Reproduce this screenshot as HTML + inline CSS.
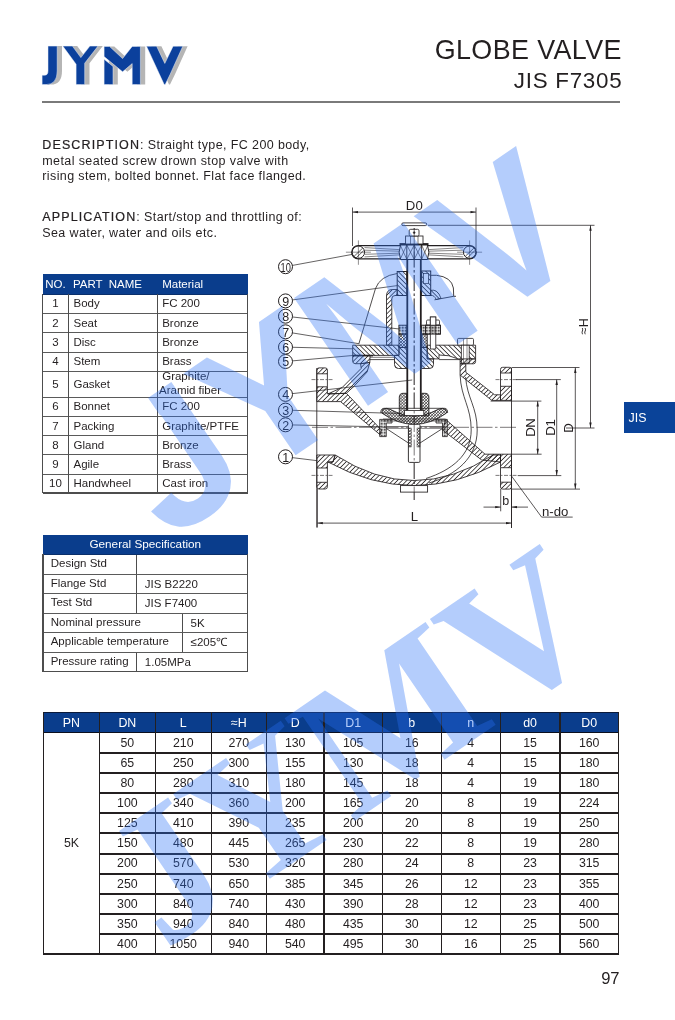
<!DOCTYPE html>
<html><head><meta charset="utf-8"><title>Globe Valve JIS F7305</title>
<style>
html,body{margin:0;padding:0;background:#fff;}
body{width:675px;height:1020px;position:relative;overflow:hidden;font-family:"Liberation Sans", sans-serif;}
.t{position:absolute;white-space:pre;font-family:"Liberation Sans", sans-serif;}
.l{position:absolute;}
svg{position:absolute;left:0;top:0;}
#pg{position:absolute;left:0;top:0;width:675px;height:1020px;overflow:hidden;will-change:transform;}
</style></head><body><div id="pg">
<svg width="675" height="110" viewBox="0 0 675 110" style="left:0;top:0"><g transform="translate(4.8,0)" fill="#b5b5b5"><path d="M48,46.1 H57.2 V71 Q57.2,84.6 46,84.6 H42.1 V75.2 H44.6 Q48,75.2 48,71 Z"/><path d="M62.8,46.1 L72.4,46.1 L80.85,57.6 L89.9,46.1 L98,46.1 L84.7,63.2 L84.7,84.6 L76.1,84.6 L76.1,64.2 Z"/><path d="M104.1,46.4 L109.5,46.4 L122.6,58.6 L132.2,46.4 L140.4,46.4 L140.4,84.6 L132.2,84.6 L132.2,63.6 L122.6,71.8 L104.1,56.6 Z"/><path d="M104.1,59.2 L113,66.4 L113,84.6 L104.1,84.6 Z"/><path d="M146.5,46.2 L156.6,46.2 L164.8,63.4 L173.1,46.2 L182.8,46.2 L170.2,74.2 L165.2,84.6 L164.2,84.6 Z"/></g><g fill="#0b409c" stroke="#e8eef8" stroke-width="0.5"><path d="M48,46.1 H57.2 V71 Q57.2,84.6 46,84.6 H42.1 V75.2 H44.6 Q48,75.2 48,71 Z"/><path d="M62.8,46.1 L72.4,46.1 L80.85,57.6 L89.9,46.1 L98,46.1 L84.7,63.2 L84.7,84.6 L76.1,84.6 L76.1,64.2 Z"/><path d="M104.1,46.4 L109.5,46.4 L122.6,58.6 L132.2,46.4 L140.4,46.4 L140.4,84.6 L132.2,84.6 L132.2,63.6 L122.6,71.8 L104.1,56.6 Z"/><path d="M104.1,59.2 L113,66.4 L113,84.6 L104.1,84.6 Z"/><path d="M146.5,46.2 L156.6,46.2 L164.8,63.4 L173.1,46.2 L182.8,46.2 L170.2,74.2 L165.2,84.6 L164.2,84.6 Z"/></g></svg>
<div class="t" style="left:380.00px;top:34.47px;font-size:26.9px;line-height:33.62px;color:#231f20;width:241.90px;text-align:right;letter-spacing:0.4px;">GLOBE VALVE</div>
<div class="t" style="left:380.00px;top:66.64px;font-size:22.4px;line-height:28.0px;color:#231f20;width:242.40px;text-align:right;letter-spacing:0.72px;">JIS F7305</div>
<div class="l" style="left:42.00px;top:101.00px;width:578.00px;height:1.6px;background:#7a7a7a"></div>
<div class="t" style="left:42.30px;top:138.26px;font-size:12.5px;line-height:15.62px;color:#231f20;letter-spacing:0.39px;"><span style="-webkit-text-stroke:0.22px #231f20;letter-spacing:1.12px;">DESCRIPTION</span>: Straight type, FC 200 body,</div>
<div class="t" style="left:42.30px;top:153.66px;font-size:12.5px;line-height:15.62px;color:#231f20;letter-spacing:0.39px;">metal seated screw drown stop valve with</div>
<div class="t" style="left:42.30px;top:169.46px;font-size:12.5px;line-height:15.62px;color:#231f20;letter-spacing:0.39px;">rising stem, bolted bonnet. Flat face flanged.</div>
<div class="t" style="left:42.30px;top:210.16px;font-size:12.5px;line-height:15.62px;color:#231f20;letter-spacing:0.39px;"><span style="-webkit-text-stroke:0.22px #231f20;letter-spacing:1.12px;">APPLICATION</span>: Start/stop and throttling of:</div>
<div class="t" style="left:42.30px;top:225.66px;font-size:12.5px;line-height:15.62px;color:#231f20;letter-spacing:0.39px;">Sea water, water and oils etc.</div>
<div class="l" style="left:42.50px;top:274.20px;width:205.30px;height:19.50px;background:#0a3d8c"></div>
<div class="t" style="left:42.50px;top:277.03px;font-size:11.5px;line-height:14.38px;color:#fff;width:25.80px;text-align:center;">NO.</div>
<div class="t" style="left:72.90px;top:277.03px;font-size:11.5px;line-height:14.38px;color:#fff;">PART  NAME</div>
<div class="t" style="left:162.20px;top:277.03px;font-size:11.5px;line-height:14.38px;color:#fff;">Material</div>
<div class="t" style="left:42.50px;top:296.13px;font-size:11.5px;line-height:14.38px;color:#231f20;width:25.80px;text-align:center;">1</div>
<div class="t" style="left:73.50px;top:296.13px;font-size:11.5px;line-height:14.38px;color:#231f20;">Body</div>
<div class="t" style="left:162.20px;top:296.13px;font-size:11.5px;line-height:14.38px;color:#231f20;">FC 200</div>
<div class="t" style="left:42.50px;top:315.63px;font-size:11.5px;line-height:14.38px;color:#231f20;width:25.80px;text-align:center;">2</div>
<div class="t" style="left:73.50px;top:315.63px;font-size:11.5px;line-height:14.38px;color:#231f20;">Seat</div>
<div class="t" style="left:162.20px;top:315.63px;font-size:11.5px;line-height:14.38px;color:#231f20;">Bronze</div>
<div class="t" style="left:42.50px;top:335.13px;font-size:11.5px;line-height:14.38px;color:#231f20;width:25.80px;text-align:center;">3</div>
<div class="t" style="left:73.50px;top:335.13px;font-size:11.5px;line-height:14.38px;color:#231f20;">Disc</div>
<div class="t" style="left:162.20px;top:335.13px;font-size:11.5px;line-height:14.38px;color:#231f20;">Bronze</div>
<div class="t" style="left:42.50px;top:354.43px;font-size:11.5px;line-height:14.38px;color:#231f20;width:25.80px;text-align:center;">4</div>
<div class="t" style="left:73.50px;top:354.43px;font-size:11.5px;line-height:14.38px;color:#231f20;">Stem</div>
<div class="t" style="left:162.20px;top:354.43px;font-size:11.5px;line-height:14.38px;color:#231f20;">Brass</div>
<div class="t" style="left:42.50px;top:376.83px;font-size:11.5px;line-height:14.38px;color:#231f20;width:25.80px;text-align:center;">5</div>
<div class="t" style="left:73.50px;top:376.83px;font-size:11.5px;line-height:14.38px;color:#231f20;">Gasket</div>
<div class="t" style="left:162.20px;top:369.43px;font-size:11.5px;line-height:14.38px;color:#231f20;">Graphite/</div>
<div class="t" style="left:159.00px;top:383.23px;font-size:11.5px;line-height:14.38px;color:#231f20;">Aramid fiber</div>
<div class="t" style="left:42.50px;top:399.33px;font-size:11.5px;line-height:14.38px;color:#231f20;width:25.80px;text-align:center;">6</div>
<div class="t" style="left:73.50px;top:399.33px;font-size:11.5px;line-height:14.38px;color:#231f20;">Bonnet</div>
<div class="t" style="left:162.20px;top:399.33px;font-size:11.5px;line-height:14.38px;color:#231f20;">FC 200</div>
<div class="t" style="left:42.50px;top:418.58px;font-size:11.5px;line-height:14.38px;color:#231f20;width:25.80px;text-align:center;">7</div>
<div class="t" style="left:73.50px;top:418.58px;font-size:11.5px;line-height:14.38px;color:#231f20;">Packing</div>
<div class="t" style="left:162.20px;top:418.58px;font-size:11.5px;line-height:14.38px;color:#231f20;">Graphite/PTFE</div>
<div class="t" style="left:42.50px;top:437.73px;font-size:11.5px;line-height:14.38px;color:#231f20;width:25.80px;text-align:center;">8</div>
<div class="t" style="left:73.50px;top:437.73px;font-size:11.5px;line-height:14.38px;color:#231f20;">Gland</div>
<div class="t" style="left:162.20px;top:437.73px;font-size:11.5px;line-height:14.38px;color:#231f20;">Bronze</div>
<div class="t" style="left:42.50px;top:457.03px;font-size:11.5px;line-height:14.38px;color:#231f20;width:25.80px;text-align:center;">9</div>
<div class="t" style="left:73.50px;top:457.03px;font-size:11.5px;line-height:14.38px;color:#231f20;">Agile</div>
<div class="t" style="left:162.20px;top:457.03px;font-size:11.5px;line-height:14.38px;color:#231f20;">Brass</div>
<div class="t" style="left:42.50px;top:476.23px;font-size:11.5px;line-height:14.38px;color:#231f20;width:25.80px;text-align:center;">10</div>
<div class="t" style="left:73.50px;top:476.23px;font-size:11.5px;line-height:14.38px;color:#231f20;">Handwheel</div>
<div class="t" style="left:162.20px;top:476.23px;font-size:11.5px;line-height:14.38px;color:#231f20;">Cast iron</div>
<div class="l" style="left:42.50px;top:312.80px;width:205.30px;height:1px;background:#5a5a5a"></div>
<div class="l" style="left:42.50px;top:332.20px;width:205.30px;height:1px;background:#5a5a5a"></div>
<div class="l" style="left:42.50px;top:351.80px;width:205.30px;height:1px;background:#5a5a5a"></div>
<div class="l" style="left:42.50px;top:370.80px;width:205.30px;height:1px;background:#5a5a5a"></div>
<div class="l" style="left:42.50px;top:396.60px;width:205.30px;height:1px;background:#5a5a5a"></div>
<div class="l" style="left:42.50px;top:415.80px;width:205.30px;height:1px;background:#5a5a5a"></div>
<div class="l" style="left:42.50px;top:435.10px;width:205.30px;height:1px;background:#5a5a5a"></div>
<div class="l" style="left:42.50px;top:454.10px;width:205.30px;height:1px;background:#5a5a5a"></div>
<div class="l" style="left:42.50px;top:473.70px;width:205.30px;height:1px;background:#5a5a5a"></div>
<div class="l" style="left:42.50px;top:492.45px;width:205.30px;height:1.1px;background:#4d4d4d"></div>
<div class="l" style="left:42.50px;top:293.50px;width:205.30px;height:1.0px;background:#0a2f6a"></div>
<div class="l" style="left:41.98px;top:293.70px;width:1.05px;height:199.80px;background:#4d4d4d"></div>
<div class="l" style="left:67.77px;top:293.70px;width:1.05px;height:199.80px;background:#4d4d4d"></div>
<div class="l" style="left:156.78px;top:293.70px;width:1.05px;height:199.80px;background:#4d4d4d"></div>
<div class="l" style="left:247.28px;top:293.70px;width:1.05px;height:199.80px;background:#4d4d4d"></div>
<div class="l" style="left:43.00px;top:535.20px;width:204.50px;height:19.20px;background:#0a3d8c"></div>
<div class="t" style="left:43.00px;top:537.18px;font-size:11.75px;line-height:14.69px;color:#fff;width:204.50px;text-align:center;">General Specification</div>
<div class="t" style="left:50.70px;top:555.93px;font-size:11.5px;line-height:14.38px;color:#231f20;">Design Std</div>
<div class="l" style="left:136.07px;top:554.40px;width:1.05px;height:19.60px;background:#4d4d4d"></div>
<div class="t" style="left:50.70px;top:575.53px;font-size:11.5px;line-height:14.38px;color:#231f20;">Flange Std</div>
<div class="t" style="left:144.80px;top:576.63px;font-size:11.5px;line-height:14.38px;color:#231f20;">JIS B2220</div>
<div class="l" style="left:136.07px;top:574.00px;width:1.05px;height:19.60px;background:#4d4d4d"></div>
<div class="t" style="left:50.70px;top:595.08px;font-size:11.5px;line-height:14.38px;color:#231f20;">Test Std</div>
<div class="t" style="left:144.80px;top:596.18px;font-size:11.5px;line-height:14.38px;color:#231f20;">JIS F7400</div>
<div class="l" style="left:136.07px;top:593.60px;width:1.05px;height:19.50px;background:#4d4d4d"></div>
<div class="t" style="left:50.70px;top:614.63px;font-size:11.5px;line-height:14.38px;color:#231f20;">Nominal pressure</div>
<div class="t" style="left:190.60px;top:615.73px;font-size:11.5px;line-height:14.38px;color:#231f20;">5K</div>
<div class="l" style="left:181.88px;top:613.10px;width:1.05px;height:19.60px;background:#4d4d4d"></div>
<div class="t" style="left:50.70px;top:634.18px;font-size:11.5px;line-height:14.38px;color:#231f20;">Applicable temperature</div>
<div class="t" style="left:190.60px;top:635.28px;font-size:11.5px;line-height:14.38px;color:#231f20;">≤205℃</div>
<div class="l" style="left:181.88px;top:632.70px;width:1.05px;height:19.50px;background:#4d4d4d"></div>
<div class="t" style="left:50.70px;top:653.58px;font-size:11.5px;line-height:14.38px;color:#231f20;">Pressure rating</div>
<div class="t" style="left:144.80px;top:654.68px;font-size:11.5px;line-height:14.38px;color:#231f20;">1.05MPa</div>
<div class="l" style="left:136.07px;top:652.20px;width:1.05px;height:19.30px;background:#4d4d4d"></div>
<div class="l" style="left:43.00px;top:573.50px;width:204.50px;height:1px;background:#5a5a5a"></div>
<div class="l" style="left:43.00px;top:593.10px;width:204.50px;height:1px;background:#5a5a5a"></div>
<div class="l" style="left:43.00px;top:612.60px;width:204.50px;height:1px;background:#5a5a5a"></div>
<div class="l" style="left:43.00px;top:632.20px;width:204.50px;height:1px;background:#5a5a5a"></div>
<div class="l" style="left:43.00px;top:651.70px;width:204.50px;height:1px;background:#5a5a5a"></div>
<div class="l" style="left:43.00px;top:670.95px;width:204.50px;height:1.1px;background:#4d4d4d"></div>
<div class="l" style="left:43.00px;top:554.20px;width:204.50px;height:1.0px;background:#0a2f6a"></div>
<div class="l" style="left:42.48px;top:554.40px;width:1.05px;height:117.60px;background:#4d4d4d"></div>
<div class="l" style="left:246.97px;top:554.40px;width:1.05px;height:117.60px;background:#4d4d4d"></div>
<div class="l" style="left:43.40px;top:712.10px;width:575.10px;height:20.30px;background:#0a3d8c"></div>
<div class="t" style="left:43.40px;top:716.25px;font-size:12.4px;line-height:15.5px;color:#fff;width:56.10px;text-align:center;">PN</div>
<div class="t" style="left:99.50px;top:716.25px;font-size:12.4px;line-height:15.5px;color:#fff;width:55.70px;text-align:center;">DN</div>
<div class="t" style="left:155.20px;top:716.25px;font-size:12.4px;line-height:15.5px;color:#fff;width:56.10px;text-align:center;">L</div>
<div class="t" style="left:211.30px;top:716.25px;font-size:12.4px;line-height:15.5px;color:#fff;width:55.00px;text-align:center;">≈H</div>
<div class="t" style="left:266.30px;top:716.25px;font-size:12.4px;line-height:15.5px;color:#fff;width:57.80px;text-align:center;">D</div>
<div class="t" style="left:324.10px;top:716.25px;font-size:12.4px;line-height:15.5px;color:#fff;width:58.20px;text-align:center;">D1</div>
<div class="t" style="left:382.30px;top:716.25px;font-size:12.4px;line-height:15.5px;color:#fff;width:59.00px;text-align:center;">b</div>
<div class="t" style="left:441.30px;top:716.25px;font-size:12.4px;line-height:15.5px;color:#fff;width:58.90px;text-align:center;">n</div>
<div class="t" style="left:500.20px;top:716.25px;font-size:12.4px;line-height:15.5px;color:#fff;width:59.70px;text-align:center;">d0</div>
<div class="t" style="left:559.90px;top:716.25px;font-size:12.4px;line-height:15.5px;color:#fff;width:58.60px;text-align:center;">D0</div>
<div class="t" style="left:99.50px;top:735.66px;font-size:12.35px;line-height:15.44px;color:#231f20;width:55.70px;text-align:center;">50</div>
<div class="t" style="left:155.20px;top:735.66px;font-size:12.35px;line-height:15.44px;color:#231f20;width:56.10px;text-align:center;">210</div>
<div class="t" style="left:211.30px;top:735.66px;font-size:12.35px;line-height:15.44px;color:#231f20;width:55.00px;text-align:center;">270</div>
<div class="t" style="left:266.30px;top:735.66px;font-size:12.35px;line-height:15.44px;color:#231f20;width:57.80px;text-align:center;">130</div>
<div class="t" style="left:324.10px;top:735.66px;font-size:12.35px;line-height:15.44px;color:#231f20;width:58.20px;text-align:center;">105</div>
<div class="t" style="left:382.30px;top:735.66px;font-size:12.35px;line-height:15.44px;color:#231f20;width:59.00px;text-align:center;">16</div>
<div class="t" style="left:441.30px;top:735.66px;font-size:12.35px;line-height:15.44px;color:#231f20;width:58.90px;text-align:center;">4</div>
<div class="t" style="left:500.20px;top:735.66px;font-size:12.35px;line-height:15.44px;color:#231f20;width:59.70px;text-align:center;">15</div>
<div class="t" style="left:559.90px;top:735.66px;font-size:12.35px;line-height:15.44px;color:#231f20;width:58.60px;text-align:center;">160</div>
<div class="t" style="left:99.50px;top:755.79px;font-size:12.35px;line-height:15.44px;color:#231f20;width:55.70px;text-align:center;">65</div>
<div class="t" style="left:155.20px;top:755.79px;font-size:12.35px;line-height:15.44px;color:#231f20;width:56.10px;text-align:center;">250</div>
<div class="t" style="left:211.30px;top:755.79px;font-size:12.35px;line-height:15.44px;color:#231f20;width:55.00px;text-align:center;">300</div>
<div class="t" style="left:266.30px;top:755.79px;font-size:12.35px;line-height:15.44px;color:#231f20;width:57.80px;text-align:center;">155</div>
<div class="t" style="left:324.10px;top:755.79px;font-size:12.35px;line-height:15.44px;color:#231f20;width:58.20px;text-align:center;">130</div>
<div class="t" style="left:382.30px;top:755.79px;font-size:12.35px;line-height:15.44px;color:#231f20;width:59.00px;text-align:center;">18</div>
<div class="t" style="left:441.30px;top:755.79px;font-size:12.35px;line-height:15.44px;color:#231f20;width:58.90px;text-align:center;">4</div>
<div class="t" style="left:500.20px;top:755.79px;font-size:12.35px;line-height:15.44px;color:#231f20;width:59.70px;text-align:center;">15</div>
<div class="t" style="left:559.90px;top:755.79px;font-size:12.35px;line-height:15.44px;color:#231f20;width:58.60px;text-align:center;">180</div>
<div class="t" style="left:99.50px;top:775.92px;font-size:12.35px;line-height:15.44px;color:#231f20;width:55.70px;text-align:center;">80</div>
<div class="t" style="left:155.20px;top:775.92px;font-size:12.35px;line-height:15.44px;color:#231f20;width:56.10px;text-align:center;">280</div>
<div class="t" style="left:211.30px;top:775.92px;font-size:12.35px;line-height:15.44px;color:#231f20;width:55.00px;text-align:center;">310</div>
<div class="t" style="left:266.30px;top:775.92px;font-size:12.35px;line-height:15.44px;color:#231f20;width:57.80px;text-align:center;">180</div>
<div class="t" style="left:324.10px;top:775.92px;font-size:12.35px;line-height:15.44px;color:#231f20;width:58.20px;text-align:center;">145</div>
<div class="t" style="left:382.30px;top:775.92px;font-size:12.35px;line-height:15.44px;color:#231f20;width:59.00px;text-align:center;">18</div>
<div class="t" style="left:441.30px;top:775.92px;font-size:12.35px;line-height:15.44px;color:#231f20;width:58.90px;text-align:center;">4</div>
<div class="t" style="left:500.20px;top:775.92px;font-size:12.35px;line-height:15.44px;color:#231f20;width:59.70px;text-align:center;">19</div>
<div class="t" style="left:559.90px;top:775.92px;font-size:12.35px;line-height:15.44px;color:#231f20;width:58.60px;text-align:center;">180</div>
<div class="t" style="left:99.50px;top:796.05px;font-size:12.35px;line-height:15.44px;color:#231f20;width:55.70px;text-align:center;">100</div>
<div class="t" style="left:155.20px;top:796.05px;font-size:12.35px;line-height:15.44px;color:#231f20;width:56.10px;text-align:center;">340</div>
<div class="t" style="left:211.30px;top:796.05px;font-size:12.35px;line-height:15.44px;color:#231f20;width:55.00px;text-align:center;">360</div>
<div class="t" style="left:266.30px;top:796.05px;font-size:12.35px;line-height:15.44px;color:#231f20;width:57.80px;text-align:center;">200</div>
<div class="t" style="left:324.10px;top:796.05px;font-size:12.35px;line-height:15.44px;color:#231f20;width:58.20px;text-align:center;">165</div>
<div class="t" style="left:382.30px;top:796.05px;font-size:12.35px;line-height:15.44px;color:#231f20;width:59.00px;text-align:center;">20</div>
<div class="t" style="left:441.30px;top:796.05px;font-size:12.35px;line-height:15.44px;color:#231f20;width:58.90px;text-align:center;">8</div>
<div class="t" style="left:500.20px;top:796.05px;font-size:12.35px;line-height:15.44px;color:#231f20;width:59.70px;text-align:center;">19</div>
<div class="t" style="left:559.90px;top:796.05px;font-size:12.35px;line-height:15.44px;color:#231f20;width:58.60px;text-align:center;">224</div>
<div class="t" style="left:99.50px;top:816.17px;font-size:12.35px;line-height:15.44px;color:#231f20;width:55.70px;text-align:center;">125</div>
<div class="t" style="left:155.20px;top:816.17px;font-size:12.35px;line-height:15.44px;color:#231f20;width:56.10px;text-align:center;">410</div>
<div class="t" style="left:211.30px;top:816.17px;font-size:12.35px;line-height:15.44px;color:#231f20;width:55.00px;text-align:center;">390</div>
<div class="t" style="left:266.30px;top:816.17px;font-size:12.35px;line-height:15.44px;color:#231f20;width:57.80px;text-align:center;">235</div>
<div class="t" style="left:324.10px;top:816.17px;font-size:12.35px;line-height:15.44px;color:#231f20;width:58.20px;text-align:center;">200</div>
<div class="t" style="left:382.30px;top:816.17px;font-size:12.35px;line-height:15.44px;color:#231f20;width:59.00px;text-align:center;">20</div>
<div class="t" style="left:441.30px;top:816.17px;font-size:12.35px;line-height:15.44px;color:#231f20;width:58.90px;text-align:center;">8</div>
<div class="t" style="left:500.20px;top:816.17px;font-size:12.35px;line-height:15.44px;color:#231f20;width:59.70px;text-align:center;">19</div>
<div class="t" style="left:559.90px;top:816.17px;font-size:12.35px;line-height:15.44px;color:#231f20;width:58.60px;text-align:center;">250</div>
<div class="t" style="left:99.50px;top:836.30px;font-size:12.35px;line-height:15.44px;color:#231f20;width:55.70px;text-align:center;">150</div>
<div class="t" style="left:155.20px;top:836.30px;font-size:12.35px;line-height:15.44px;color:#231f20;width:56.10px;text-align:center;">480</div>
<div class="t" style="left:211.30px;top:836.30px;font-size:12.35px;line-height:15.44px;color:#231f20;width:55.00px;text-align:center;">445</div>
<div class="t" style="left:266.30px;top:836.30px;font-size:12.35px;line-height:15.44px;color:#231f20;width:57.80px;text-align:center;">265</div>
<div class="t" style="left:324.10px;top:836.30px;font-size:12.35px;line-height:15.44px;color:#231f20;width:58.20px;text-align:center;">230</div>
<div class="t" style="left:382.30px;top:836.30px;font-size:12.35px;line-height:15.44px;color:#231f20;width:59.00px;text-align:center;">22</div>
<div class="t" style="left:441.30px;top:836.30px;font-size:12.35px;line-height:15.44px;color:#231f20;width:58.90px;text-align:center;">8</div>
<div class="t" style="left:500.20px;top:836.30px;font-size:12.35px;line-height:15.44px;color:#231f20;width:59.70px;text-align:center;">19</div>
<div class="t" style="left:559.90px;top:836.30px;font-size:12.35px;line-height:15.44px;color:#231f20;width:58.60px;text-align:center;">280</div>
<div class="t" style="left:99.50px;top:856.43px;font-size:12.35px;line-height:15.44px;color:#231f20;width:55.70px;text-align:center;">200</div>
<div class="t" style="left:155.20px;top:856.43px;font-size:12.35px;line-height:15.44px;color:#231f20;width:56.10px;text-align:center;">570</div>
<div class="t" style="left:211.30px;top:856.43px;font-size:12.35px;line-height:15.44px;color:#231f20;width:55.00px;text-align:center;">530</div>
<div class="t" style="left:266.30px;top:856.43px;font-size:12.35px;line-height:15.44px;color:#231f20;width:57.80px;text-align:center;">320</div>
<div class="t" style="left:324.10px;top:856.43px;font-size:12.35px;line-height:15.44px;color:#231f20;width:58.20px;text-align:center;">280</div>
<div class="t" style="left:382.30px;top:856.43px;font-size:12.35px;line-height:15.44px;color:#231f20;width:59.00px;text-align:center;">24</div>
<div class="t" style="left:441.30px;top:856.43px;font-size:12.35px;line-height:15.44px;color:#231f20;width:58.90px;text-align:center;">8</div>
<div class="t" style="left:500.20px;top:856.43px;font-size:12.35px;line-height:15.44px;color:#231f20;width:59.70px;text-align:center;">23</div>
<div class="t" style="left:559.90px;top:856.43px;font-size:12.35px;line-height:15.44px;color:#231f20;width:58.60px;text-align:center;">315</div>
<div class="t" style="left:99.50px;top:876.56px;font-size:12.35px;line-height:15.44px;color:#231f20;width:55.70px;text-align:center;">250</div>
<div class="t" style="left:155.20px;top:876.56px;font-size:12.35px;line-height:15.44px;color:#231f20;width:56.10px;text-align:center;">740</div>
<div class="t" style="left:211.30px;top:876.56px;font-size:12.35px;line-height:15.44px;color:#231f20;width:55.00px;text-align:center;">650</div>
<div class="t" style="left:266.30px;top:876.56px;font-size:12.35px;line-height:15.44px;color:#231f20;width:57.80px;text-align:center;">385</div>
<div class="t" style="left:324.10px;top:876.56px;font-size:12.35px;line-height:15.44px;color:#231f20;width:58.20px;text-align:center;">345</div>
<div class="t" style="left:382.30px;top:876.56px;font-size:12.35px;line-height:15.44px;color:#231f20;width:59.00px;text-align:center;">26</div>
<div class="t" style="left:441.30px;top:876.56px;font-size:12.35px;line-height:15.44px;color:#231f20;width:58.90px;text-align:center;">12</div>
<div class="t" style="left:500.20px;top:876.56px;font-size:12.35px;line-height:15.44px;color:#231f20;width:59.70px;text-align:center;">23</div>
<div class="t" style="left:559.90px;top:876.56px;font-size:12.35px;line-height:15.44px;color:#231f20;width:58.60px;text-align:center;">355</div>
<div class="t" style="left:99.50px;top:896.68px;font-size:12.35px;line-height:15.44px;color:#231f20;width:55.70px;text-align:center;">300</div>
<div class="t" style="left:155.20px;top:896.68px;font-size:12.35px;line-height:15.44px;color:#231f20;width:56.10px;text-align:center;">840</div>
<div class="t" style="left:211.30px;top:896.68px;font-size:12.35px;line-height:15.44px;color:#231f20;width:55.00px;text-align:center;">740</div>
<div class="t" style="left:266.30px;top:896.68px;font-size:12.35px;line-height:15.44px;color:#231f20;width:57.80px;text-align:center;">430</div>
<div class="t" style="left:324.10px;top:896.68px;font-size:12.35px;line-height:15.44px;color:#231f20;width:58.20px;text-align:center;">390</div>
<div class="t" style="left:382.30px;top:896.68px;font-size:12.35px;line-height:15.44px;color:#231f20;width:59.00px;text-align:center;">28</div>
<div class="t" style="left:441.30px;top:896.68px;font-size:12.35px;line-height:15.44px;color:#231f20;width:58.90px;text-align:center;">12</div>
<div class="t" style="left:500.20px;top:896.68px;font-size:12.35px;line-height:15.44px;color:#231f20;width:59.70px;text-align:center;">23</div>
<div class="t" style="left:559.90px;top:896.68px;font-size:12.35px;line-height:15.44px;color:#231f20;width:58.60px;text-align:center;">400</div>
<div class="t" style="left:99.50px;top:916.81px;font-size:12.35px;line-height:15.44px;color:#231f20;width:55.70px;text-align:center;">350</div>
<div class="t" style="left:155.20px;top:916.81px;font-size:12.35px;line-height:15.44px;color:#231f20;width:56.10px;text-align:center;">940</div>
<div class="t" style="left:211.30px;top:916.81px;font-size:12.35px;line-height:15.44px;color:#231f20;width:55.00px;text-align:center;">840</div>
<div class="t" style="left:266.30px;top:916.81px;font-size:12.35px;line-height:15.44px;color:#231f20;width:57.80px;text-align:center;">480</div>
<div class="t" style="left:324.10px;top:916.81px;font-size:12.35px;line-height:15.44px;color:#231f20;width:58.20px;text-align:center;">435</div>
<div class="t" style="left:382.30px;top:916.81px;font-size:12.35px;line-height:15.44px;color:#231f20;width:59.00px;text-align:center;">30</div>
<div class="t" style="left:441.30px;top:916.81px;font-size:12.35px;line-height:15.44px;color:#231f20;width:58.90px;text-align:center;">12</div>
<div class="t" style="left:500.20px;top:916.81px;font-size:12.35px;line-height:15.44px;color:#231f20;width:59.70px;text-align:center;">25</div>
<div class="t" style="left:559.90px;top:916.81px;font-size:12.35px;line-height:15.44px;color:#231f20;width:58.60px;text-align:center;">500</div>
<div class="t" style="left:99.50px;top:936.94px;font-size:12.35px;line-height:15.44px;color:#231f20;width:55.70px;text-align:center;">400</div>
<div class="t" style="left:155.20px;top:936.94px;font-size:12.35px;line-height:15.44px;color:#231f20;width:56.10px;text-align:center;">1050</div>
<div class="t" style="left:211.30px;top:936.94px;font-size:12.35px;line-height:15.44px;color:#231f20;width:55.00px;text-align:center;">940</div>
<div class="t" style="left:266.30px;top:936.94px;font-size:12.35px;line-height:15.44px;color:#231f20;width:57.80px;text-align:center;">540</div>
<div class="t" style="left:324.10px;top:936.94px;font-size:12.35px;line-height:15.44px;color:#231f20;width:58.20px;text-align:center;">495</div>
<div class="t" style="left:382.30px;top:936.94px;font-size:12.35px;line-height:15.44px;color:#231f20;width:59.00px;text-align:center;">30</div>
<div class="t" style="left:441.30px;top:936.94px;font-size:12.35px;line-height:15.44px;color:#231f20;width:58.90px;text-align:center;">16</div>
<div class="t" style="left:500.20px;top:936.94px;font-size:12.35px;line-height:15.44px;color:#231f20;width:59.70px;text-align:center;">25</div>
<div class="t" style="left:559.90px;top:936.94px;font-size:12.35px;line-height:15.44px;color:#231f20;width:58.60px;text-align:center;">560</div>
<div class="t" style="left:43.40px;top:836.30px;font-size:12.35px;line-height:15.44px;color:#231f20;width:56.10px;text-align:center;">5K</div>
<div class="l" style="left:42.60px;top:711.70px;width:576.70px;height:1.4px;background:#0a1a3a"></div>
<div class="l" style="left:42.60px;top:731.75px;width:576.70px;height:1.3px;background:#0b0f1e"></div>
<div class="l" style="left:99.50px;top:752.00px;width:519.00px;height:1.75px;background:#231f20"></div>
<div class="l" style="left:99.50px;top:772.00px;width:519.00px;height:1.75px;background:#231f20"></div>
<div class="l" style="left:99.50px;top:792.00px;width:519.00px;height:1.75px;background:#231f20"></div>
<div class="l" style="left:99.50px;top:812.00px;width:519.00px;height:1.75px;background:#231f20"></div>
<div class="l" style="left:99.50px;top:832.00px;width:519.00px;height:1.75px;background:#231f20"></div>
<div class="l" style="left:99.50px;top:853.00px;width:519.00px;height:1.75px;background:#231f20"></div>
<div class="l" style="left:99.50px;top:873.00px;width:519.00px;height:1.75px;background:#231f20"></div>
<div class="l" style="left:99.50px;top:893.00px;width:519.00px;height:1.75px;background:#231f20"></div>
<div class="l" style="left:99.50px;top:913.00px;width:519.00px;height:1.75px;background:#231f20"></div>
<div class="l" style="left:99.50px;top:933.00px;width:519.00px;height:1.75px;background:#231f20"></div>
<div class="l" style="left:42.60px;top:952.95px;width:576.70px;height:1.7px;background:#231f20"></div>
<div class="l" style="left:42.60px;top:712.10px;width:1.6px;height:241.70px;background:#231f20"></div>
<div class="l" style="left:98.80px;top:712.10px;width:1.4px;height:241.70px;background:#231f20"></div>
<div class="l" style="left:154.50px;top:712.10px;width:1.4px;height:241.70px;background:#231f20"></div>
<div class="l" style="left:210.60px;top:712.10px;width:1.4px;height:241.70px;background:#231f20"></div>
<div class="l" style="left:265.60px;top:712.10px;width:1.4px;height:241.70px;background:#231f20"></div>
<div class="l" style="left:323.40px;top:712.10px;width:1.4px;height:241.70px;background:#231f20"></div>
<div class="l" style="left:381.60px;top:712.10px;width:1.4px;height:241.70px;background:#231f20"></div>
<div class="l" style="left:440.60px;top:712.10px;width:1.4px;height:241.70px;background:#231f20"></div>
<div class="l" style="left:499.50px;top:712.10px;width:1.4px;height:241.70px;background:#231f20"></div>
<div class="l" style="left:559.20px;top:712.10px;width:1.4px;height:241.70px;background:#231f20"></div>
<div class="l" style="left:617.70px;top:712.10px;width:1.6px;height:241.70px;background:#231f20"></div>
<div class="l" style="left:624.30px;top:401.50px;width:50.70px;height:31.00px;background:#0a4399"></div>
<div class="t" style="left:628.60px;top:410.95px;font-size:12.4px;line-height:15.5px;color:#fff;">JIS</div>
<div class="t" style="left:560.00px;top:968.67px;font-size:16.6px;line-height:20.75px;color:#231f20;width:59.60px;text-align:right;">97</div>
<svg width="675" height="1020" viewBox="0 0 675 1020" font-family="Liberation Sans, sans-serif"><defs>
<pattern id="hA" width="3.3" height="3.3" patternUnits="userSpaceOnUse" patternTransform="rotate(45)"><rect width="0.75" height="3.3" fill="#231f20"/></pattern>
<pattern id="hB" width="3.3" height="3.3" patternUnits="userSpaceOnUse" patternTransform="rotate(-45)"><rect width="0.75" height="3.3" fill="#231f20"/></pattern>
<pattern id="hX" width="2.1" height="2.1" patternUnits="userSpaceOnUse" patternTransform="rotate(45)"><rect width="0.5" height="2.1" fill="#231f20"/><rect width="2.1" height="0.5" fill="#231f20"/></pattern>
<pattern id="hD" width="1.5" height="1.5" patternUnits="userSpaceOnUse"><rect width="0.9" height="0.9" fill="#231f20"/></pattern>
</defs>
<line x1="352.5" y1="207.5" x2="352.5" y2="246" stroke="#231f20" stroke-width="0.75" /><line x1="476" y1="207.5" x2="476" y2="250" stroke="#231f20" stroke-width="0.75" /><line x1="352.5" y1="212.1" x2="476" y2="212.1" stroke="#231f20" stroke-width="0.75" /><path d="M352.50,212.10 L358.00,210.90 L358.00,213.30 Z" fill="#231f20"/><path d="M476.00,212.10 L470.50,213.30 L470.50,210.90 Z" fill="#231f20"/><text x="414.3" y="210.1" font-size="13.2" text-anchor="middle" fill="#231f20" >D0</text><line x1="428" y1="225.3" x2="594.5" y2="225.3" stroke="#231f20" stroke-width="0.75" /><line x1="590.5" y1="225.3" x2="590.5" y2="428" stroke="#231f20" stroke-width="0.75" /><path d="M590.50,225.30 L591.70,230.80 L589.30,230.80 Z" fill="#231f20"/><path d="M590.50,428.00 L589.30,422.50 L591.70,422.50 Z" fill="#231f20"/><line x1="566" y1="428" x2="594.5" y2="428" stroke="#231f20" stroke-width="0.75" /><text x="588.3" y="326.2" font-size="12.5" text-anchor="middle" fill="#231f20" transform="rotate(-90 588.3 326.2)" >≈H</text><line x1="575.3" y1="367.5" x2="575.3" y2="489.1" stroke="#231f20" stroke-width="0.75" /><path d="M575.30,367.50 L576.50,373.00 L574.10,373.00 Z" fill="#231f20"/><path d="M575.30,489.10 L574.10,483.60 L576.50,483.60 Z" fill="#231f20"/><line x1="512" y1="367.5" x2="579.5" y2="367.5" stroke="#231f20" stroke-width="0.75" /><line x1="512" y1="489.1" x2="580" y2="489.1" stroke="#231f20" stroke-width="0.75" /><text x="573.2" y="427.9" font-size="13.2" text-anchor="middle" fill="#231f20" transform="rotate(-90 573.2 427.9)" >D</text><line x1="556.7" y1="379.6" x2="556.7" y2="475.6" stroke="#231f20" stroke-width="0.75" /><path d="M556.70,379.60 L557.90,385.10 L555.50,385.10 Z" fill="#231f20"/><path d="M556.70,475.60 L555.50,470.10 L557.90,470.10 Z" fill="#231f20"/><line x1="516" y1="379.6" x2="560.8" y2="379.6" stroke="#231f20" stroke-width="0.75" /><line x1="517.7" y1="475.6" x2="561.3" y2="475.6" stroke="#231f20" stroke-width="0.75" /><text x="555.0" y="427.7" font-size="13.2" text-anchor="middle" fill="#231f20" transform="rotate(-90 555.0 427.7)" letter-spacing="-0.3">D1</text><line x1="537.7" y1="401.1" x2="537.7" y2="454.2" stroke="#231f20" stroke-width="0.75" /><path d="M537.70,401.10 L538.90,406.60 L536.50,406.60 Z" fill="#231f20"/><path d="M537.70,454.20 L536.50,448.70 L538.90,448.70 Z" fill="#231f20"/><line x1="490.6" y1="401.1" x2="541.4" y2="401.1" stroke="#231f20" stroke-width="0.75" /><line x1="511.5" y1="454.2" x2="541.6" y2="454.2" stroke="#231f20" stroke-width="0.75" /><text x="535.2" y="427.7" font-size="13.2" text-anchor="middle" fill="#231f20" transform="rotate(-90 535.2 427.7)" letter-spacing="-0.5">DN</text><line x1="500.7" y1="489" x2="500.7" y2="511.3" stroke="#231f20" stroke-width="0.75" /><line x1="511.5" y1="489" x2="511.5" y2="527.9" stroke="#231f20" stroke-width="0.75" /><line x1="483.5" y1="507.1" x2="500.7" y2="507.1" stroke="#231f20" stroke-width="0.75" /><path d="M500.70,507.10 L495.20,508.30 L495.20,505.90 Z" fill="#231f20"/><line x1="511.5" y1="507.1" x2="528" y2="507.1" stroke="#231f20" stroke-width="0.75" /><path d="M511.50,507.10 L517.00,505.90 L517.00,508.30 Z" fill="#231f20"/><text x="505.7" y="504.6" font-size="12.5" text-anchor="middle" fill="#231f20" >b</text><path d="M511.5,476 L541.6,517.1 L572.7,517.1" stroke="#231f20" stroke-width="0.75" fill="none" /><text x="542.0" y="515.6" font-size="13.2" text-anchor="start" fill="#231f20" >n-do</text><line x1="317.3" y1="489" x2="317.3" y2="527.5" stroke="#231f20" stroke-width="0.75" /><line x1="317.3" y1="523.1" x2="511.5" y2="523.1" stroke="#231f20" stroke-width="0.75" /><path d="M317.30,523.10 L322.80,521.90 L322.80,524.30 Z" fill="#231f20"/><path d="M511.50,523.10 L506.00,524.30 L506.00,521.90 Z" fill="#231f20"/><text x="414.4" y="520.6" font-size="13.2" text-anchor="middle" fill="#231f20" >L</text><line x1="414.2" y1="228" x2="414.2" y2="500" stroke="#231f20" stroke-width="0.6" stroke-dasharray="16 2.5 2.5 2.5"/><line x1="312" y1="427.3" x2="516" y2="427.3" stroke="#231f20" stroke-width="0.6" stroke-dasharray="16 2.5 2.5 2.5"/><circle cx="285.5" cy="266.7" r="7.0" stroke="#231f20" stroke-width="1.0" fill="#fff"/><line x1="292.3839302485979" y1="265.4305495943365" x2="352.2" y2="254.4" stroke="#231f20" stroke-width="0.7" /><text x="0" y="0" font-size="13.6" text-anchor="middle" fill="#231f20" transform="translate(285.70,271.60) scale(0.68,1)">10</text><circle cx="285.5" cy="300.9" r="7.0" stroke="#231f20" stroke-width="1.0" fill="#fff"/><line x1="292.4352432038758" y1="299.9500517366222" x2="397.2" y2="285.6" stroke="#231f20" stroke-width="0.7" /><text x="0" y="0" font-size="13.6" text-anchor="middle" fill="#231f20" transform="translate(285.70,305.80) scale(0.92,1)">9</text><circle cx="285.5" cy="316.2" r="7.0" stroke="#231f20" stroke-width="1.0" fill="#fff"/><line x1="292.456220130043" y1="316.98166585084977" x2="400.3" y2="329.1" stroke="#231f20" stroke-width="0.7" /><text x="0" y="0" font-size="13.6" text-anchor="middle" fill="#231f20" transform="translate(285.70,321.10) scale(0.92,1)">8</text><circle cx="285.5" cy="331.8" r="7.0" stroke="#231f20" stroke-width="1.0" fill="#fff"/><line x1="292.40953695772515" y1="332.92173928781625" x2="358.8" y2="343.7" stroke="#231f20" stroke-width="0.7" /><text x="0" y="0" font-size="13.6" text-anchor="middle" fill="#231f20" transform="translate(285.70,336.70) scale(0.92,1)">7</text><circle cx="285.5" cy="347.1" r="7.0" stroke="#231f20" stroke-width="1.0" fill="#fff"/><line x1="292.49775450633047" y1="347.27729035261945" x2="352.6" y2="348.8" stroke="#231f20" stroke-width="0.7" /><text x="0" y="0" font-size="13.6" text-anchor="middle" fill="#231f20" transform="translate(285.70,352.00) scale(0.92,1)">6</text><circle cx="285.5" cy="361.5" r="7.0" stroke="#231f20" stroke-width="1.0" fill="#fff"/><line x1="292.47218169729155" y1="360.8765560330291" x2="352.6" y2="355.5" stroke="#231f20" stroke-width="0.7" /><text x="0" y="0" font-size="13.6" text-anchor="middle" fill="#231f20" transform="translate(285.70,366.40) scale(0.92,1)">5</text><circle cx="285.5" cy="394.4" r="7.0" stroke="#231f20" stroke-width="1.0" fill="#fff"/><line x1="292.45522278569916" y1="393.6095090125172" x2="412.2" y2="380" stroke="#231f20" stroke-width="0.7" /><text x="0" y="0" font-size="13.6" text-anchor="middle" fill="#231f20" transform="translate(285.70,399.30) scale(0.92,1)">4</text><circle cx="285.5" cy="410.1" r="7.0" stroke="#231f20" stroke-width="1.0" fill="#fff"/><line x1="292.4969159045132" y1="410.30776868188076" x2="400" y2="413.5" stroke="#231f20" stroke-width="0.7" /><text x="0" y="0" font-size="13.6" text-anchor="middle" fill="#231f20" transform="translate(285.70,415.00) scale(0.92,1)">3</text><circle cx="285.5" cy="424.8" r="7.0" stroke="#231f20" stroke-width="1.0" fill="#fff"/><line x1="292.4984654591107" y1="424.9465647216568" x2="381" y2="426.8" stroke="#231f20" stroke-width="0.7" /><text x="0" y="0" font-size="13.6" text-anchor="middle" fill="#231f20" transform="translate(285.70,429.70) scale(0.92,1)">2</text><circle cx="285.5" cy="456.8" r="7.0" stroke="#231f20" stroke-width="1.0" fill="#fff"/><line x1="292.44794321721065" y1="457.65210624362015" x2="317.3" y2="460.7" stroke="#231f20" stroke-width="0.7" /><text x="0" y="0" font-size="13.6" text-anchor="middle" fill="#231f20" transform="translate(285.70,461.70) scale(0.92,1)">1</text><path d="M358.4,245.6 L469.6,245.6 A6.65,6.65 0 0 1 469.6,258.9 L358.4,258.9 A6.65,6.65 0 0 1 358.4,245.6 Z" stroke="#231f20" stroke-width="1.25" fill="none" /><line x1="364.5" y1="247.6" x2="399" y2="249.6" stroke="#231f20" stroke-width="0.55" /><line x1="463.29999999999995" y1="247.6" x2="428.79999999999995" y2="249.6" stroke="#231f20" stroke-width="0.55" /><line x1="365" y1="250.2" x2="399" y2="251.2" stroke="#231f20" stroke-width="0.55" /><line x1="462.79999999999995" y1="250.2" x2="428.79999999999995" y2="251.2" stroke="#231f20" stroke-width="0.55" /><line x1="365" y1="254.3" x2="399" y2="253.2" stroke="#231f20" stroke-width="0.55" /><line x1="462.79999999999995" y1="254.3" x2="428.79999999999995" y2="253.2" stroke="#231f20" stroke-width="0.55" /><line x1="364.5" y1="256.9" x2="399" y2="254.9" stroke="#231f20" stroke-width="0.55" /><line x1="463.29999999999995" y1="256.9" x2="428.79999999999995" y2="254.9" stroke="#231f20" stroke-width="0.55" /><circle cx="358.4" cy="252.2" r="6.2" stroke="#231f20" stroke-width="1.0" fill="#fff"/><line x1="354.09999999999997" y1="256.3" x2="362.7" y2="248.1" stroke="#231f20" stroke-width="0.7" /><line x1="356.2" y1="257.8" x2="363.7" y2="250.6" stroke="#231f20" stroke-width="0.7" /><line x1="358.4" y1="240.4" x2="358.4" y2="264.8" stroke="#231f20" stroke-width="0.5" /><line x1="345.9" y1="252.2" x2="370.9" y2="252.2" stroke="#231f20" stroke-width="0.5" /><circle cx="469.6" cy="252.2" r="6.2" stroke="#231f20" stroke-width="1.0" fill="#fff"/><line x1="465.3" y1="256.3" x2="473.90000000000003" y2="248.1" stroke="#231f20" stroke-width="0.7" /><line x1="467.40000000000003" y1="257.8" x2="474.90000000000003" y2="250.6" stroke="#231f20" stroke-width="0.7" /><line x1="469.6" y1="240.4" x2="469.6" y2="264.8" stroke="#231f20" stroke-width="0.5" /><line x1="457.1" y1="252.2" x2="482.1" y2="252.2" stroke="#231f20" stroke-width="0.5" /><path d="M400.6,244.8 Q397.6,252.1 400.6,259.5 L427.4,259.5 Q430.4,252.1 427.4,244.8 Z" stroke="#231f20" stroke-width="1.0" fill="#fff" /><line x1="400.2" y1="245" x2="406.8" y2="259.3" stroke="#231f20" stroke-width="0.6" /><line x1="406.8" y1="245" x2="400.2" y2="259.3" stroke="#231f20" stroke-width="0.6" /><line x1="406.8" y1="245" x2="414.2" y2="259.3" stroke="#231f20" stroke-width="0.6" /><line x1="414.2" y1="245" x2="406.8" y2="259.3" stroke="#231f20" stroke-width="0.6" /><line x1="414.2" y1="245" x2="421.6" y2="259.3" stroke="#231f20" stroke-width="0.6" /><line x1="421.6" y1="245" x2="414.2" y2="259.3" stroke="#231f20" stroke-width="0.6" /><line x1="421.6" y1="245" x2="428" y2="259.3" stroke="#231f20" stroke-width="0.6" /><line x1="428" y1="245" x2="421.6" y2="259.3" stroke="#231f20" stroke-width="0.6" /><line x1="406.8" y1="244.5" x2="406.8" y2="259.5" stroke="#231f20" stroke-width="0.9" /><line x1="414.2" y1="244.5" x2="414.2" y2="259.5" stroke="#231f20" stroke-width="0.9" /><line x1="421.6" y1="244.5" x2="421.6" y2="259.5" stroke="#231f20" stroke-width="0.9" /><line x1="399.5" y1="244.2" x2="428.5" y2="244.2" stroke="#231f20" stroke-width="2.2" /><rect x="405.6" y="236" width="17.40" height="8.00" rx="0" stroke="#231f20" stroke-width="0.85" fill="#fff"/><line x1="410.5" y1="236" x2="410.5" y2="244" stroke="#231f20" stroke-width="0.6" /><line x1="418" y1="236" x2="418" y2="244" stroke="#231f20" stroke-width="0.6" /><rect x="409.2" y="229.3" width="9.80" height="6.70" rx="1.5" stroke="#231f20" stroke-width="0.85" fill="#fff"/><circle cx="414.2" cy="232.6" r="0.9" stroke="#231f20" stroke-width="0.6" fill="#231f20"/><rect x="401.8" y="222.9" width="24.90" height="2.70" rx="1.3" stroke="#231f20" stroke-width="0.85" fill="#fff"/><line x1="407.3" y1="259.5" x2="407.3" y2="410.5" stroke="#231f20" stroke-width="1.8" /><line x1="420.8" y1="259.5" x2="420.8" y2="410.5" stroke="#231f20" stroke-width="1.8" /><rect x="397.2" y="271.5" width="9.60" height="24.00" rx="0" stroke="#231f20" stroke-width="1.0" fill="url(#hB)"/><rect x="421.6" y="271.0" width="9.10" height="24.50" rx="0" stroke="#231f20" stroke-width="1.0" fill="url(#hB)"/><rect x="423.6" y="273.5" width="4.80" height="10.00" rx="0" stroke="#231f20" stroke-width="0.7" fill="#fff"/><path d="M397.2,289.5 L392.5,289.5 Q386.5,289.5 386.5,296 L386.5,345.2 L391.8,345.2 L391.8,299 Q391.8,295.5 395,295.5 L397.2,295.5 Z" stroke="#231f20" stroke-width="0.85" fill="url(#hA)" /><path d="M358.8,344 L375.5,288.5 Q380,276 397.2,273.5" stroke="#231f20" stroke-width="0.8" fill="none" /><path d="M430.7,275.3 L436.5,275.3 Q451.5,277 453.4,288 L453.7,296.3 L456,296.3" stroke="#231f20" stroke-width="0.85" fill="none" /><line x1="453.7" y1="296.3" x2="434.5" y2="299.8" stroke="#231f20" stroke-width="0.85" /><path d="M430.7,290.3 Q437.5,288.8 441,298.2 L436.2,299.6 Q434.5,295.2 430.7,295.3 Z" stroke="#231f20" stroke-width="0.8" fill="url(#hB)" /><rect x="398.9" y="325.2" width="7.90" height="8.90" rx="0" stroke="#231f20" stroke-width="0.9" fill="url(#hD)"/><rect x="421.6" y="325.2" width="5.60" height="8.90" rx="0" stroke="#231f20" stroke-width="0.9" fill="url(#hD)"/><rect x="399.0" y="334.1" width="7.80" height="13.30" rx="0" stroke="#231f20" stroke-width="0.9" fill="url(#hX)"/><rect x="421.6" y="334.1" width="5.60" height="13.30" rx="0" stroke="#231f20" stroke-width="0.9" fill="url(#hX)"/><path d="M352.7,345.2 L399,345.2 L399,355.4 L352.7,355.4 Z" stroke="#231f20" stroke-width="0.85" fill="url(#hB)" /><path d="M427.2,345.2 L475.6,345.2 L475.6,358.9 L458,358.9 Q449,354.5 439,355 L439,358.9 L427.2,358.9 Z" stroke="#231f20" stroke-width="0.85" fill="url(#hB)" /><path d="M394.5,355.4 L394.5,364.5 Q394.5,368.5 398.5,368.5 L406.8,368.5 L406.8,347.4 L399,347.4 L399,355.4 Z" stroke="#231f20" stroke-width="0.85" fill="url(#hB)" /><path d="M433.5,358.9 L433.5,364.5 Q433.5,368.5 429.5,368.5 L421.6,368.5 L421.6,347.4 L427.2,347.4 L427.2,358.9 Z" stroke="#231f20" stroke-width="0.85" fill="url(#hB)" /><line x1="352.7" y1="355.6" x2="373" y2="355.6" stroke="#231f20" stroke-width="1.6" /><line x1="370" y1="357.3" x2="394.5" y2="357.3" stroke="#231f20" stroke-width="0.6" /><line x1="370" y1="359.6" x2="394.5" y2="359.6" stroke="#231f20" stroke-width="0.8" /><line x1="439" y1="359.6" x2="460" y2="359.6" stroke="#231f20" stroke-width="0.8" /><rect x="426.5" y="320.0" width="13.00" height="5.20" rx="1.2" stroke="#231f20" stroke-width="0.8" fill="#fff"/><rect x="425.6" y="325.2" width="14.80" height="8.90" rx="0" stroke="#231f20" stroke-width="0.8" fill="#fff"/><rect x="430.3" y="317.0" width="5.50" height="32.00" rx="0" stroke="#231f20" stroke-width="0.8" fill="#fff"/><line x1="431.8" y1="326" x2="431.8" y2="333.5" stroke="#231f20" stroke-width="0.5" /><line x1="434.3" y1="326" x2="434.3" y2="333.5" stroke="#231f20" stroke-width="0.5" /><rect x="457.5" y="338.4" width="16.00" height="6.80" rx="1.2" stroke="#231f20" stroke-width="0.8" fill="#fff"/><rect x="461.3" y="345.2" width="7.90" height="17.90" rx="0" stroke="#231f20" stroke-width="0.8" fill="#fff"/><line x1="463.5" y1="339" x2="463.5" y2="362.5" stroke="#231f20" stroke-width="0.5" /><line x1="467" y1="339" x2="467" y2="362.5" stroke="#231f20" stroke-width="0.5" /><path d="M352.7,355.6 L370.1,355.6 L369.8,362.5 L360.6,363.7 L355.2,363.7 Q352.7,363.7 352.7,361 Z" stroke="#231f20" stroke-width="0.85" fill="url(#hA)" /><path d="M460.1,358.9 L475.6,358.9 L475.6,361.5 Q475.6,363.8 473.5,363.8 L460.1,363.8 Z" stroke="#231f20" stroke-width="0.85" fill="url(#hA)" /><path d="M328,393.9 L342.3,387.4 L361.2,368.4 L360.6,363.7 L369.8,362.5 L367.1,372 L354.1,386.2 L346.4,393.3 Z" stroke="#231f20" stroke-width="0.85" fill="url(#hA)" /><path d="M316.8,386.8 L327.4,386.8 L327.4,393.9 L346.4,393.3 L381.4,430 L380.2,434.8 L340.5,401.6 L316.8,401.6 Z" stroke="#231f20" stroke-width="0.85" fill="url(#hA)" /><path d="M316.8,373.8 L316.8,370 Q316.8,367.9 319,367.9 L325.2,367.9 Q327.4,367.9 327.4,370 L327.4,373.8 Z" stroke="#231f20" stroke-width="0.85" fill="url(#hA)" /><path d="M316.8,455 L335.2,455 L333,462 L327.4,462 L327.4,468 L316.8,468 Z" stroke="#231f20" stroke-width="0.85" fill="url(#hA)" /><path d="M316.8,482.3 L327.4,482.3 L327.4,486.8 Q327.4,489 325.2,489 L319,489 Q316.8,489 316.8,486.8 Z" stroke="#231f20" stroke-width="0.85" fill="url(#hA)" /><line x1="316.8" y1="468" x2="316.8" y2="482.3" stroke="#231f20" stroke-width="0.85" /><line x1="327.4" y1="468" x2="327.4" y2="482.3" stroke="#231f20" stroke-width="0.85" /><line x1="316.8" y1="373.8" x2="316.8" y2="386.8" stroke="#231f20" stroke-width="0.85" /><line x1="327.4" y1="373.8" x2="327.4" y2="386.8" stroke="#231f20" stroke-width="0.85" /><path d="M335.2,455 Q414,506 493,455 L500.5,455 L500.5,462 Q414,509 328,462 L333,462 Z" stroke="#231f20" stroke-width="0.85" fill="url(#hA)" /><rect x="400.5" y="485.6" width="27.10" height="6.50" rx="0" stroke="#231f20" stroke-width="0.85" fill="#fff"/><path d="M465.8,363.8 L465.8,372.3 L494.6,394.8 L500.5,394.8 L500.5,400.4 L491.8,400.4 L460.1,375 L460.1,363.8 Z" stroke="#231f20" stroke-width="0.85" fill="url(#hA)" /><path d="M500.5,373 L500.5,369.5 Q500.5,367.3 502.7,367.3 L509.3,367.3 Q511.5,367.3 511.5,369.5 L511.5,373 Z" stroke="#231f20" stroke-width="0.85" fill="url(#hA)" /><path d="M500.5,386.3 L511.5,386.3 L511.5,400.4 L500.5,400.4 Z" stroke="#231f20" stroke-width="0.85" fill="url(#hA)" /><path d="M500.5,454.2 L511.5,454.2 L511.5,467.7 L500.5,467.7 Z" stroke="#231f20" stroke-width="0.85" fill="url(#hA)" /><path d="M500.5,482.2 L511.5,482.2 L511.5,486.9 Q511.5,489.1 509.3,489.1 L502.7,489.1 Q500.5,489.1 500.5,486.9 Z" stroke="#231f20" stroke-width="0.85" fill="url(#hA)" /><line x1="500.5" y1="373" x2="500.5" y2="386.3" stroke="#231f20" stroke-width="0.85" /><line x1="511.5" y1="373" x2="511.5" y2="386.3" stroke="#231f20" stroke-width="0.85" /><line x1="500.5" y1="467.7" x2="500.5" y2="482.2" stroke="#231f20" stroke-width="0.85" /><line x1="511.5" y1="467.7" x2="511.5" y2="482.2" stroke="#231f20" stroke-width="0.85" /><path d="M445.8,419.5 L485,454.2 L500.5,454.2 L500.5,462 L481.7,460 L442.5,430 Z" stroke="#231f20" stroke-width="0.85" fill="url(#hA)" /><line x1="311.5" y1="379.6" x2="333" y2="379.6" stroke="#231f20" stroke-width="0.6" stroke-dasharray="4 1.5 1.5 1.5"/><line x1="495.5" y1="379.6" x2="516.5" y2="379.6" stroke="#231f20" stroke-width="0.6" stroke-dasharray="4 1.5 1.5 1.5"/><line x1="311.5" y1="475.4" x2="333" y2="475.4" stroke="#231f20" stroke-width="0.6" stroke-dasharray="4 1.5 1.5 1.5"/><line x1="495.5" y1="475.4" x2="516.5" y2="475.4" stroke="#231f20" stroke-width="0.6" stroke-dasharray="4 1.5 1.5 1.5"/><path d="M460.1,375 C461,398 471.2,407 471.2,430 C471.2,455 452,470 426,478.5" stroke="#231f20" stroke-width="0.8" fill="none" /><path d="M465.6,377 C467,398 477.2,407 477.2,430 C477.2,458 456,475 429,483" stroke="#231f20" stroke-width="0.8" fill="none" /><path d="M379.7,419.4 L392,419.4 L392,423 L386.3,423 L386.3,436.6 L379.7,436.6 Z" stroke="#231f20" stroke-width="0.8" fill="url(#hD)" /><path d="M447.3,419.4 L436,419.4 L436,423 L442.5,423 L442.5,436.6 L447.3,436.6 Z" stroke="#231f20" stroke-width="0.8" fill="url(#hD)" /><line x1="386.3" y1="426.5" x2="442.5" y2="426.5" stroke="#231f20" stroke-width="0.6" /><line x1="386.3" y1="428.3" x2="442.5" y2="428.3" stroke="#231f20" stroke-width="0.6" /><path d="M382.5,409.5 Q386,407.3 390,409.3 Q404,416.3 414.2,416.3 Q424.4,416.3 438.4,409.3 Q442.4,407.3 445.9,409.5 L446.6,413 Q431,424.3 414.2,424.3 Q397.4,424.3 381.8,413 Z" stroke="#231f20" stroke-width="0.9" fill="url(#hX)" /><path d="M399.3,416 L399.3,397.5 Q399.3,393.3 403,393.3 L406.6,393.3 L406.6,416 Z" stroke="#231f20" stroke-width="0.9" fill="url(#hX)" /><path d="M428.9,416 L428.9,397.5 Q428.9,393.3 425.2,393.3 L421.8,393.3 L421.8,416 Z" stroke="#231f20" stroke-width="0.9" fill="url(#hX)" /><rect x="404.6" y="410.5" width="19.20" height="5.10" rx="0" stroke="#231f20" stroke-width="0.8" fill="#fff"/><line x1="386.3" y1="428.5" x2="408.4" y2="443" stroke="#231f20" stroke-width="0.8" /><line x1="442.5" y1="428.5" x2="420.0" y2="443" stroke="#231f20" stroke-width="0.8" /><rect x="408.4" y="424.3" width="11.60" height="38.10" rx="1.2" stroke="#231f20" stroke-width="0.9" fill="#fff"/><rect x="408.4" y="428" width="3.00" height="19.00" rx="0" stroke="#231f20" stroke-width="0.4" fill="url(#hX)"/><rect x="417.0" y="428" width="3.00" height="19.00" rx="0" stroke="#231f20" stroke-width="0.4" fill="url(#hX)"/><line x1="316.8" y1="368" x2="316.8" y2="527.5" stroke="#231f20" stroke-width="0.85" /><line x1="511.5" y1="367.5" x2="511.5" y2="528" stroke="#231f20" stroke-width="0.85" /><path d="M380.8,413 Q380.6,408.3 384,408.3 L444.4,408.3 Q447.8,408.3 447.6,413" stroke="#231f20" stroke-width="0.8" fill="none" /><line x1="383" y1="419.0" x2="445.4" y2="419.0" stroke="#231f20" stroke-width="0.6" /><line x1="383" y1="421.0" x2="445.4" y2="421.0" stroke="#231f20" stroke-width="0.6" /><rect x="425.6" y="325.2" width="14.80" height="8.90" rx="0" stroke="#231f20" stroke-width="0.8" fill="url(#hD)"/><rect x="430.3" y="317.0" width="5.50" height="8.20" rx="0" stroke="#231f20" stroke-width="0.8" fill="#fff"/><line x1="414.2" y1="228" x2="414.2" y2="500" stroke="#231f20" stroke-width="0.6" stroke-dasharray="16 2.5 2.5 2.5"/></svg>
<svg width="675" height="1020" viewBox="0 0 675 1020" style="left:0;top:0;pointer-events:none"><defs><clipPath id="jc" clipPathUnits="userSpaceOnUse"><rect x="-60" y="-108.5" width="760" height="260"/><rect x="64.5" y="-300" width="700" height="450"/></clipPath></defs><g transform="translate(168.7,542.3) rotate(-34.4)"><text x="0" y="0" clip-path="url(#jc)" letter-spacing="-1.8" font-family="Liberation Sans, sans-serif" font-weight="bold" font-size="190" fill="rgba(40,111,246,0.35)">JYMV</text></g><text x="0" y="0" transform="translate(164.0,951.1) rotate(-34.3)" letter-spacing="-2.3" font-family="Liberation Serif, serif" font-weight="bold" font-size="190" fill="rgba(40,111,246,0.35)">JYMV</text></svg>
</div></body></html>
